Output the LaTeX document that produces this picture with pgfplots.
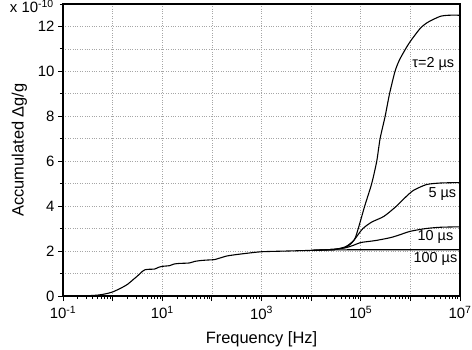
\documentclass[border=0pt]{standalone}
\usepackage{fontspec}
\setmainfont{Liberation Sans}
\usepackage{pgfplots}
\usepackage{pgfplotstable}
\pgfplotsset{compat=1.18}

% tau = 100 us (common base curve)
\pgfplotstableread{
f      dg
0.1    0
0.2    0.005
0.3    0.01
0.5    0.04
0.7    0.09
1      0.18
1.5    0.36
2      0.52
2.5    0.70
3.16   0.89
4      1.10
4.5    1.17
5.5    1.19
7      1.20
8.5    1.28
10     1.32
14     1.35
17     1.42
22     1.45
35     1.47
45     1.54
60     1.58
80     1.60
112    1.62
140    1.68
200    1.78
300    1.84
500    1.90
1000   1.97
3000   2.00
1e4    2.03
3e4    2.05
1e5    2.06
1e7    2.06
}\tauhundred
\pgfplotstableread{
f      dg
1e4    2.03
3e4    2.08
5e4    2.15
7e4    2.25
1e5    2.38
2e5    2.47
4e5    2.60
6e5    2.72
1e6    2.88
2e6    3.00
4e6    3.06
1e7    3.08
}\tauten
\pgfplotstableread{
f      dg
1e4    2.03
3e4    2.08
5e4    2.17
6.5e4  2.35
8e4    2.60
1.1e5  3.00
1.66e5 3.29
2.9e5  3.54
5e5    3.96
8e5    4.40
1.15e6 4.70
2.1e6  4.96
4e6    5.03
1e7    5.05
}\taufive
\pgfplotstableread{
f      dg
1e4    2.03
3e4    2.08
5e4    2.20
7.4e4  2.50
8.9e4  3.00
1.2e5  4.00
1.66e5 5.00
2.1e5  6.00
2.45e5 7.00
3.1e5  8.00
3.8e5  9.00
4.9e5  10.0
6e5    10.5
8e5    11.0
1e6    11.34
1.6e6  11.93
2.3e6  12.2
4e6    12.45
6e6    12.5
1e7    12.5
}\tautwo

\begin{document}
\begin{tikzpicture}
\path[use as bounding box] (-63bp,-54bp) rectangle (409bp,296bp);
\begin{axis}[
  at={(0,0)}, anchor=south west,
  scale only axis, width=397bp, height=292bp,
  xmode=log, xmin=1e-1, xmax=1e7, ymin=0, ymax=13,
  xtick={1e-1,1,10,100,1e3,1e4,1e5,1e6,1e7},
  xticklabels={10\textsuperscript{-1},,10\textsuperscript{1},,10\textsuperscript{3},,10\textsuperscript{5},,10\textsuperscript{7}},
  minor xtick={0.2,0.3,0.4,0.5,0.6,0.7,0.8,0.9,2,3,4,5,6,7,8,9,20,30,40,50,60,70,80,90,200,300,400,500,600,700,800,900,2e3,3e3,4e3,5e3,6e3,7e3,8e3,9e3,2e4,3e4,4e4,5e4,6e4,7e4,8e4,9e4,2e5,3e5,4e5,5e5,6e5,7e5,8e5,9e5,2e6,3e6,4e6,5e6,6e6,7e6,8e6,9e6},
  ytick={0,2,...,12}, minor ytick={1,3,...,13},
  tick align=outside, xtick pos=bottom, ytick pos=left,
  major tick length=5bp, minor tick length=3bp,
  xmajorgrids, ymajorgrids, yminorgrids,
  grid style={gray!70, dotted, line width=0.7pt},
  axis line style={line width=1.2pt},
  every tick/.style={black, line width=0.9pt},
  tick label style={font=\fontsize{15}{17}\selectfont},
  xticklabel style={yshift=-2bp},
  /pgf/number format/assume math mode=true,
  xlabel={Frequency [Hz]}, ylabel={Accumulated Δg/g},
  every axis x label/.style={at={(axis description cs:0.5,-0.147)}, anchor=center,
    font=\fontsize{16.5}{19}\selectfont},
  every axis y label/.style={at={(axis description cs:-0.11,0.5)}, rotate=90, anchor=center,
    font=\fontsize{16.5}{19}\selectfont},
  every axis plot/.append style={black, line width=1.1pt},
  clip=false,
]
\addplot[smooth, tension=0.4] table {\tauhundred};
\addplot[smooth, tension=0.4] table {\tauten};
\addplot[smooth, tension=0.4] table {\taufive};
\addplot[smooth, tension=0.4] table {\tautwo};
\node[font=\fontsize{14.5}{17}\selectfont] at (axis cs:2.9e6,10.32) {τ=2 µs};
\node[font=\fontsize{14.5}{17}\selectfont] at (axis cs:4.4e6,4.56) {5 µs};
\node[font=\fontsize{14.5}{17}\selectfont] at (axis cs:3.2e6,2.61) {10 µs};
\node[font=\fontsize{14.5}{17}\selectfont] at (axis cs:3.2e6,1.64) {100 µs};
\node[anchor=north east, inner sep=0pt, font=\fontsize{15}{17}\selectfont]
  at ([xshift=-9bp,yshift=4bp]rel axis cs:0,1) {x 10\textsuperscript{-10}};
\end{axis}
\end{tikzpicture}
\end{document}
